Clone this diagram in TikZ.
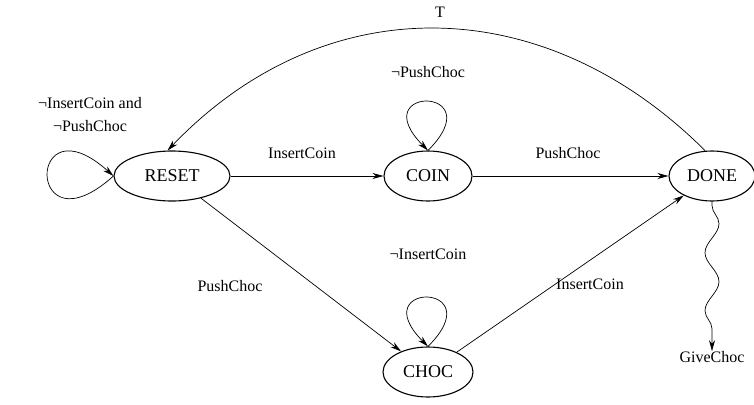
\documentclass[tikz,border=0pt]{standalone}
\usepackage{fontspec}
\setmainfont{Liberation Serif}
\usetikzlibrary{shapes.geometric,arrows.meta,decorations.pathmorphing}

\tikzset{
  state/.style={draw, ellipse, line width=1.1pt, minimum height=50pt, inner sep=0pt,
    font=\fontsize{18}{20}\selectfont},
  lbl/.style={inner sep=0pt, font=\fontsize{16}{23}\selectfont},
  edge/.style={-{Stealth[length=11pt,width=6pt]}, line width=0.7pt}
}

\begin{document}
\begin{tikzpicture}[x=1pt, y=1pt]
  \useasboundingbox (0,0) rectangle (754,-404);
  \node[state, minimum width=116pt] (reset) at (172,-176) {RESET};
  \node[state, minimum width=88pt] (coin) at (428,-176) {COIN};
  \node[state, minimum width=86pt] (done) at (712,-176) {DONE};
  \node[state, minimum width=90pt] (choc) at (428,-372) {CHOC};
  \node[lbl] (give) at (712,-357) {GiveChoc};
  % labels
  \node[lbl] (t) at (440,-12) {T};
  \node[lbl, align=center] (lreset) at (90,-115) {¬InsertCoin and\\¬PushChoc};
  \node[lbl] (lcoin) at (428,-72) {¬PushChoc};
  \node[lbl] (lchoc) at (428,-254) {¬InsertCoin};
  \node[lbl] (lrc) at (302,-153) {InsertCoin};
  \node[lbl] (lcd) at (568,-153) {PushChoc};
  \node[lbl] (lrh) at (230,-286) {PushChoc};
  \node[lbl] (lhd) at (590,-284) {InsertCoin};
  % edges
  \draw[edge] (reset) -- (coin);
  \draw[edge] (coin) -- (done);
  \draw[edge] (reset) -- (choc);
  \draw[edge] (choc) -- (done);
  \draw[edge] (done.105) .. controls (542,12) and (323,12) .. (reset.100);
  \draw[edge] (reset.west) to[out=222, in=138, distance=118pt] (reset.west);
  \draw[edge] (coin.north) to[out=45, in=135, distance=92pt] (coin.north);
  \draw[edge] (choc.north) to[out=45, in=135, distance=92pt] (choc.north);
  \draw[edge, decorate, decoration={snake, amplitude=7pt, segment length=58pt, pre length=4pt, post length=14pt}]
    (done.south) -- (give.north);
\end{tikzpicture}
\end{document}
